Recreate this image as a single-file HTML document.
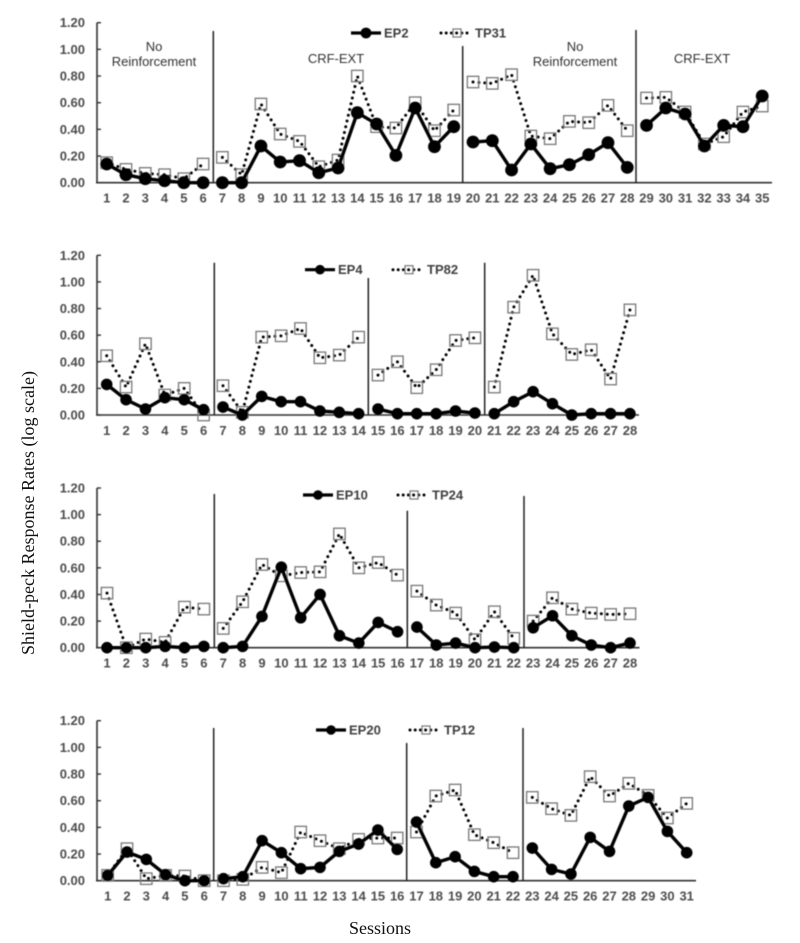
<!DOCTYPE html>
<html lang="en">
<head>
<meta charset="utf-8">
<title>Shield-peck Response Rates</title>
<style>
html,body{margin:0;padding:0;background:#fff;}
body{width:800px;height:943px;overflow:hidden;}
svg{display:block;}
.tick{font:bold 13px "Liberation Sans",Arial,sans-serif;fill:#4d4d4d;}
.legend{font:bold 13px "Liberation Sans",Arial,sans-serif;fill:#404040;}
.note{font:13px "Liberation Sans",Arial,sans-serif;fill:#333;}
.title{font:18px "Liberation Serif","Times New Roman",serif;fill:#111;}
</style>
</head>
<body>
<svg id="figure" xmlns="http://www.w3.org/2000/svg" width="800" height="943" viewBox="0 0 800 943">
<defs><filter id="soft" x="-2%" y="-2%" width="104%" height="104%"><feGaussianBlur stdDeviation="0.45"/></filter></defs>
<rect width="800" height="943" fill="#fff"/>
<g id="charts" filter="url(#soft)"></g>
<text class="title" transform="translate(34,513) rotate(-90)" text-anchor="middle">Shield-peck Response Rates (log scale)</text>
<text class="title" x="380" y="934" text-anchor="middle">Sessions</text>
</svg>
<script>
const yTickLabels = ["0.00","0.20","0.40","0.60","0.80","1.00","1.20"];
const yTickValues = [0,0.2,0.4,0.6,0.8,1.0,1.2];

const ep2Values = [0.14,0.06,0.03,0.015,0,0,0,0,0.275,0.155,0.165,0.075,0.11,0.525,0.44,0.205,0.56,0.27,0.42,0.305,0.315,0.095,0.29,0.105,0.135,0.21,0.30,0.115,0.43,0.56,0.515,0.275,0.43,0.42,0.65];
const tp31Values = [0.15,0.10,0.07,0.06,0.03,0.14,0.19,0.06,0.59,0.365,0.31,0.12,0.17,0.80,0.42,0.41,0.60,0.39,0.545,0.755,0.745,0.81,0.35,0.33,0.46,0.45,0.58,0.39,0.635,0.64,0.53,0.29,0.345,0.53,0.575];
const panel1PhaseStarts = [1,7,20,29];

const ep4Values = [0.23,0.115,0.045,0.13,0.115,0.04,0.06,0,0.14,0.10,0.10,0.03,0.02,0.01,0.045,0.01,0.01,0.01,0.03,0.015,0.01,0.10,0.175,0.085,0,0.01,0.01,0.01];
const tp82Values = [0.445,0.21,0.535,0.15,0.20,0,0.22,0.02,0.585,0.595,0.65,0.43,0.45,0.585,0.30,0.40,0.205,0.34,0.56,0.58,0.21,0.81,1.05,0.61,0.455,0.49,0.27,0.79];
const panel2PhaseStarts = [1,7,15,21];

const ep10Values = [0,0,0,0.01,0,0.01,0,0.01,0.235,0.605,0.225,0.40,0.09,0.035,0.19,0.12,0.155,0.02,0.035,0,0.005,0,0.15,0.24,0.09,0.02,0,0.035];
const tp24Values = [0.41,0,0.065,0.04,0.305,0.29,0.145,0.345,0.625,0.54,0.565,0.57,0.855,0.60,0.64,0.545,0.425,0.32,0.26,0.06,0.27,0.07,0.20,0.375,0.29,0.26,0.25,0.255];
const panel3PhaseStarts = [1,7,17,23];

const ep20Values = [0.04,0.215,0.16,0.045,0,0,0.015,0.03,0.30,0.21,0.09,0.10,0.22,0.275,0.38,0.235,0.44,0.135,0.18,0.07,0.03,0.03,0.245,0.085,0.05,0.325,0.22,0.56,0.625,0.37,0.21];
const tp12Values = [0.04,0.24,0.015,0.04,0.035,0,0,0.01,0.10,0.06,0.365,0.30,0.24,0.31,0.32,0.32,0.365,0.635,0.68,0.345,0.285,0.21,0.625,0.54,0.49,0.78,0.635,0.73,0.64,0.47,0.58];
const panel4PhaseStarts = [1,7,17,23];

const NS = "http://www.w3.org/2000/svg";
const charts = document.getElementById("charts");

function mk(parent, tag, attrs) {
  const el = document.createElementNS(NS, tag);
  for (const k in attrs) el.setAttribute(k, attrs[k]);
  parent.appendChild(el);
  return el;
}

function drawPanel(p) {
  const g = mk(charts, "g", {});
  
  

  const sx = s => p.x1 + (s - 1) * p.dx;
  const sy = v => p.y0 - v / 1.2 * (p.y0 - p.yTop);

  // axes
  const yAxis = mk(g, "line", {x1:97, x2:97, y1:p.yTop, y2:p.y0, stroke:"#333", "stroke-width":1.6});
  
  
  const xAxis = mk(g, "line", {x1:96, x2:p.xEnd, y1:p.y0, y2:p.y0, stroke:"#333", "stroke-width":1.6});
  
  

  yTickValues.forEach((v, i) => {
    const t = mk(g, "line", {x1:97, x2:101, y1:sy(v), y2:sy(v), stroke:"#333", "stroke-width":1.4});
    
    
    const l = mk(g, "text", {x:85, y:sy(v) + 4.5, "text-anchor":"end", "class":"tick"});
    l.textContent = yTickLabels[i];
    
    
  });

  p.ep.forEach((v, i) => {
    const l = mk(g, "text", {x:sx(i + 1), y:p.y0 + 20, "text-anchor":"middle", "class":"tick"});
    l.textContent = String(i + 1);
    
    
  });

  // phase dividers
  p.dividers.forEach(d => {
    const ln = mk(g, "line", {x1:d.x, x2:d.x, y1:d.top, y2:p.y0, stroke:"#222", "stroke-width":1.5});
    
    
  });

  // segments: index ranges from phase starts
  const ranges = p.phases.map((s, i) => [s, (i + 1 < p.phases.length ? p.phases[i + 1] : p.ep.length + 1) - 1]);

  // TP series
  const tpG = mk(g, "g", {});
  
  
  ranges.forEach(r => {
    let pts = [];
    for (let s = r[0]; s <= r[1]; s++) pts.push(sx(s) + "," + sy(p.tp[s - 1]));
    const pl = mk(tpG, "polyline", {points:pts.join(" "), fill:"none", stroke:"#000", "stroke-width":3, "stroke-linecap":"round", "stroke-dasharray":"0 5.9"});
    
    
  });
  p.tp.forEach((v, i) => {
    const b = mk(tpG, "rect", {x:sx(i + 1) - 5.7, y:sy(v) - 5.7, width:11.4, height:11.4, fill:"none", stroke:"#777", "stroke-width":1.3});
    
    
  });

  // EP series
  const epG = mk(g, "g", {});
  
  
  ranges.forEach(r => {
    let pts = [];
    for (let s = r[0]; s <= r[1]; s++) pts.push(sx(s) + "," + sy(p.ep[s - 1]));
    const pl = mk(epG, "polyline", {points:pts.join(" "), fill:"none", stroke:"#000", "stroke-width":3.4, "stroke-linejoin":"round"});
    
    
  });
  p.ep.forEach((v, i) => {
    const c = mk(epG, "circle", {cx:sx(i + 1), cy:sy(v), r:p.r, fill:"#000"});
    
    
  });

  // legend
  const lg = mk(g, "g", {});
  
  
  const L = p.legend;
  mk(lg, "line", {x1:L.ep - 15, x2:L.ep + 15, y1:L.y, y2:L.y, stroke:"#000", "stroke-width":3.2});
  mk(lg, "circle", {cx:L.ep, cy:L.y, r:L.r, fill:"#000"});
  const epText = mk(lg, "text", {x:L.ep + 18, y:L.y + 4.5, "class":"legend"});
  epText.textContent = p.epName;
  
  
  mk(lg, "line", {x1:L.tp - 16, x2:L.tp + 15, y1:L.y, y2:L.y, stroke:"#000", "stroke-width":3, "stroke-linecap":"round", "stroke-dasharray":"0 5.2"});
  mk(lg, "rect", {x:L.tp - 4, y:L.y - 4, width:8, height:8, fill:"none", stroke:"#777", "stroke-width":1.2});
  const tpText = mk(lg, "text", {x:L.tp + 18, y:L.y + 4.5, "class":"legend"});
  tpText.textContent = p.tpName;
  
  

  // phase notes
  (p.notes || []).forEach(n => {
    const t = mk(g, "text", {x:n.x, y:n.y, "text-anchor":"middle", "class":"note"});
    t.textContent = n.text;
    
    
  });
}

drawPanel({
  name:"panel-ep2-tp31", epName:"EP2", tpName:"TP31", ep:ep2Values, tp:tp31Values, phases:panel1PhaseStarts,
  x1:106.7, dx:19.28, y0:182.7, yTop:22.7, xEnd:772, r:6.4,
  dividers:[{x:213.3,top:31},{x:462.7,top:46},{x:636,top:30}],
  legend:{ep:366,tp:457,y:33,r:5.4},
  notes:[{x:154,y:51,text:"No"},{x:154,y:66,text:"Reinforcement"},{x:336,y:63,text:"CRF-EXT"},
         {x:575,y:51,text:"No"},{x:575,y:66,text:"Reinforcement"},{x:702,y:63,text:"CRF-EXT"}]
});
drawPanel({
  name:"panel-ep4-tp82", epName:"EP4", tpName:"TP82", ep:ep4Values, tp:tp82Values, phases:panel2PhaseStarts,
  x1:106.7, dx:19.38, y0:415, yTop:255.3, xEnd:639, r:5.8,
  dividers:[{x:214.3,top:262.7},{x:368.3,top:278},{x:484.7,top:262.7}],
  legend:{ep:320,tp:409,y:269.7,r:4.8}
});
drawPanel({
  name:"panel-ep10-tp24", epName:"EP10", tpName:"TP24", ep:ep10Values, tp:tp24Values, phases:panel3PhaseStarts,
  x1:107, dx:19.37, y0:647.7, yTop:488, xEnd:639.5, r:5.8,
  dividers:[{x:214.3,top:494},{x:407.3,top:510.7},{x:524,top:496}],
  legend:{ep:318,tp:414,y:495,r:4.8}
});
drawPanel({
  name:"panel-ep20-tp12", epName:"EP20", tpName:"TP12", ep:ep20Values, tp:tp12Values, phases:panel4PhaseStarts,
  x1:107.7, dx:19.3, y0:880.7, yTop:720.7, xEnd:696, r:5.8,
  dividers:[{x:213.7,top:728},{x:406.7,top:743},{x:523,top:728}],
  legend:{ep:331,tp:426,y:730,r:4.8}
});
</script>
</body>
</html>
